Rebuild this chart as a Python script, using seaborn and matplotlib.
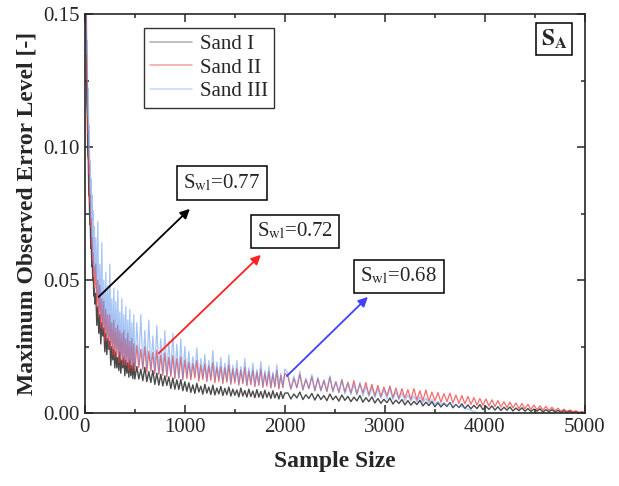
import numpy as np
import pandas as pd
import seaborn as sns
import matplotlib.pyplot as plt
from matplotlib.lines import Line2D
from matplotlib.ticker import MultipleLocator, FormatStrFormatter

# sample-size grid (sampled from the 1..5000 axis)
sample_size = np.concatenate([np.arange(5, 101, 5), np.arange(110, 501, 10),
                              np.arange(520, 1001, 20), np.arange(1020, 2001, 20),
                              np.arange(2030, 5001, 30)])

sand_1 = [0.178, 0.148, 0.139, 0.117, 0.112, 0.097, 0.095, 0.082, 0.081, 0.071,
          0.071, 0.062, 0.063, 0.055, 0.057, 0.050, 0.051, 0.044, 0.047, 0.041,
          # 110-500
          0.045, 0.033, 0.040, 0.030, 0.037, 0.026, 0.034, 0.029, 0.032, 0.023,
          0.030, 0.022, 0.028, 0.024, 0.027, 0.018, 0.025, 0.020, 0.024, 0.017,
          0.023, 0.017, 0.021, 0.016, 0.023, 0.015, 0.020, 0.017, 0.021, 0.014,
          0.020, 0.015, 0.019, 0.0135, 0.020, 0.014, 0.018, 0.013, 0.019, 0.0128,
          # 520-1000
          0.0175, 0.0128, 0.0165, 0.0122, 0.0172, 0.0118, 0.0156, 0.0115, 0.0160, 0.0108,
          0.0150, 0.0105, 0.0146, 0.0102, 0.0140, 0.0104, 0.0136, 0.0092, 0.0132, 0.0090,
          0.0125, 0.0089, 0.0126, 0.0084, 0.0118,
          # 1020-2000
          0.0082, 0.0114, 0.0078, 0.0106, 0.0074, 0.0112, 0.0079, 0.0101, 0.0071, 0.0108,
          0.0075, 0.0098, 0.0070, 0.0105, 0.0068, 0.0094, 0.0072, 0.0100, 0.0066, 0.0093,
          0.0069, 0.0098, 0.0064, 0.0090, 0.0067, 0.0087, 0.0061, 0.0094, 0.0064, 0.0085,
          0.0060, 0.0090, 0.0062, 0.0083, 0.0058, 0.0088, 0.0060, 0.0081, 0.0056, 0.0086,
          0.0059, 0.0079, 0.0055, 0.0084, 0.0057, 0.0077, 0.0053, 0.0081, 0.0055, 0.0075,
          # 2030-5000
          0.0076, 0.0053, 0.0072, 0.0057, 0.0079, 0.0051, 0.0069, 0.0055, 0.0074, 0.0049,
          0.0071, 0.0051, 0.0066, 0.0047, 0.0072, 0.0050, 0.0064, 0.0045, 0.0068, 0.0048,
          0.0063, 0.0043, 0.0060, 0.0046, 0.0066, 0.0041, 0.0058, 0.0043, 0.0061, 0.0038,
          0.0055, 0.0037, 0.0052, 0.0039, 0.0057, 0.0034, 0.0049, 0.0036, 0.0051, 0.0031,
          0.0047, 0.0030, 0.0044, 0.0032, 0.0048, 0.0027, 0.0041, 0.0028, 0.0043, 0.0024,
          0.0039, 0.0023, 0.0036, 0.0025, 0.0040, 0.0020, 0.0033, 0.0021, 0.0035, 0.0017,
          0.0031, 0.0016, 0.0029, 0.0017, 0.0032, 0.0013, 0.0026, 0.0014, 0.0027, 0.0011,
          0.0024, 0.0010, 0.0022, 0.0011, 0.0023, 0.0008, 0.0019, 0.0009, 0.0020, 0.0007,
          0.0017, 0.0006, 0.0015, 0.0007, 0.0016, 0.0004, 0.0013, 0.0005, 0.0013, 0.0004,
          0.0010, 0.0003, 0.0009, 0.0003, 0.0008, 0.0002, 0.0005, 0.0001, 0.0003, 0.0001]

sand_2 = [0.175, 0.150, 0.150, 0.125, 0.125, 0.105, 0.106, 0.090, 0.093, 0.079,
          0.082, 0.070, 0.073, 0.062, 0.066, 0.056, 0.060, 0.051, 0.055, 0.047,
          # 110-500
          0.056, 0.040, 0.050, 0.036, 0.048, 0.032, 0.043, 0.031, 0.042, 0.027,
          0.039, 0.028, 0.037, 0.024, 0.037, 0.025, 0.034, 0.022, 0.035, 0.021,
          0.032, 0.022, 0.033, 0.019, 0.031, 0.020, 0.030, 0.018, 0.031, 0.018,
          0.028, 0.018, 0.030, 0.016, 0.027, 0.017, 0.028, 0.016, 0.026, 0.016,
          # 520-1000
          0.0255, 0.0170, 0.0240, 0.0165, 0.0250, 0.0155, 0.0232, 0.0158, 0.0228, 0.0148,
          0.0236, 0.0145, 0.0218, 0.0142, 0.0226, 0.0135, 0.0210, 0.0138, 0.0216, 0.0130,
          0.0205, 0.0132, 0.0212, 0.0125, 0.0200,
          # 1020-2000
          0.0130, 0.0192, 0.0125, 0.0186, 0.0132, 0.0198, 0.0120, 0.0180, 0.0126, 0.0185,
          0.0118, 0.0178, 0.0123, 0.0190, 0.0114, 0.0172, 0.0119, 0.0176, 0.0111, 0.0170,
          0.0116, 0.0182, 0.0108, 0.0166, 0.0113, 0.0168, 0.0105, 0.0162, 0.0110, 0.0172,
          0.0102, 0.0158, 0.0107, 0.0162, 0.0099, 0.0154, 0.0104, 0.0166, 0.0096, 0.0150,
          0.0101, 0.0156, 0.0094, 0.0146, 0.0098, 0.0160, 0.0091, 0.0142, 0.0095, 0.0150,
          # 2030-5000
          0.0138, 0.0090, 0.0130, 0.0095, 0.0145, 0.0088, 0.0126, 0.0092, 0.0136, 0.0084,
          0.0130, 0.0086, 0.0122, 0.0080, 0.0135, 0.0083, 0.0118, 0.0077, 0.0126, 0.0079,
          0.0116, 0.0075, 0.0122, 0.0072, 0.0110, 0.0076, 0.0115, 0.0068, 0.0108, 0.0065,
          0.0104, 0.0062, 0.0098, 0.0065, 0.0102, 0.0058, 0.0094, 0.0055, 0.0092, 0.0057,
          0.0088, 0.0051, 0.0092, 0.0049, 0.0084, 0.0047, 0.0087, 0.0044, 0.0079, 0.0046,
          0.0077, 0.0041, 0.0073, 0.0043, 0.0075, 0.0038, 0.0068, 0.0036, 0.0066, 0.0035,
          0.0063, 0.0033, 0.0058, 0.0030, 0.0055, 0.0029, 0.0053, 0.0027, 0.0050, 0.0025,
          0.0047, 0.0023, 0.0043, 0.0021, 0.0041, 0.0020, 0.0038, 0.0017, 0.0036, 0.0016,
          0.0033, 0.0014, 0.0030, 0.0013, 0.0027, 0.0011, 0.0025, 0.0010, 0.0022, 0.0009,
          0.0018, 0.0007, 0.0015, 0.0006, 0.0012, 0.0005, 0.0009, 0.0003, 0.0006, 0.0002]

sand_3 = [0.185, 0.158, 0.165, 0.135, 0.140, 0.112, 0.122, 0.098, 0.108, 0.085,
          0.095, 0.073, 0.088, 0.066, 0.082, 0.060, 0.076, 0.055, 0.070, 0.052,
          # 110-500
          0.066, 0.044, 0.072, 0.039, 0.056, 0.036, 0.064, 0.033, 0.050, 0.031,
          0.053, 0.029, 0.048, 0.028, 0.056, 0.026, 0.043, 0.025, 0.047, 0.024,
          0.042, 0.023, 0.046, 0.022, 0.038, 0.021, 0.043, 0.020, 0.037, 0.020,
          0.040, 0.019, 0.035, 0.019, 0.039, 0.018, 0.034, 0.018, 0.037, 0.017,
          # 520-1000
          0.034, 0.018, 0.037, 0.017, 0.031, 0.017, 0.035, 0.016, 0.029, 0.016,
          0.033, 0.015, 0.028, 0.015, 0.031, 0.014, 0.027, 0.014, 0.030, 0.0135,
          0.026, 0.013, 0.028, 0.013, 0.025,
          # 1020-2000
          0.0140, 0.0232, 0.0135, 0.0212, 0.0148, 0.0245, 0.0130, 0.0205, 0.0138, 0.0220,
          0.0126, 0.0198, 0.0134, 0.0235, 0.0122, 0.0192, 0.0130, 0.0210, 0.0118, 0.0188,
          0.0126, 0.0218, 0.0114, 0.0180, 0.0122, 0.0198, 0.0110, 0.0175, 0.0118, 0.0205,
          0.0107, 0.0170, 0.0114, 0.0188, 0.0104, 0.0164, 0.0110, 0.0195, 0.0101, 0.0160,
          0.0107, 0.0176, 0.0098, 0.0155, 0.0104, 0.0182, 0.0095, 0.0150, 0.0100, 0.0166,
          # 2030-3920
          0.0150, 0.0090, 0.0140, 0.0096, 0.0158, 0.0086, 0.0132, 0.0092, 0.0145, 0.0084,
          0.0135, 0.0082, 0.0126, 0.0085, 0.0140, 0.0078, 0.0118, 0.0080, 0.0124, 0.0072,
          0.0112, 0.0070, 0.0108, 0.0068, 0.0117, 0.0064, 0.0100, 0.0063, 0.0096, 0.0058,
          0.0092, 0.0056, 0.0088, 0.0053, 0.0094, 0.0051, 0.0080, 0.0050, 0.0076, 0.0046,
          0.0068, 0.0045, 0.0064, 0.0042, 0.0062, 0.0040, 0.0056, 0.0037, 0.0051, 0.0034,
          0.0044, 0.0032, 0.0040, 0.0029, 0.0036, 0.0026, 0.0031, 0.0022, 0.0025, 0.0017,
          0.0015, 0.0010, 0.0006, 0.0002]

labels = ['Sand I', 'Sand II', 'Sand III']
series = [sand_1, sand_2, sand_3]
colors = ['#363636', '#f03a3a', '#5f95ec']
alphas = [0.9, 0.75, 0.55]
widths = [1.0, 0.9, 0.9]
legend_colors = ['#b4b4b4', '#f4a8a8', '#c4dbfa']

frames = []
for name, vals in zip(labels, series):
    frames.append(pd.DataFrame({'Sample Size': sample_size[:len(vals)],
                                'Error': vals, 'Sand': name}))
df = pd.concat(frames, ignore_index=True)

sns.set_style('ticks')
plt.rcParams['font.family'] = ['Liberation Serif', 'DejaVu Serif']
plt.rcParams['mathtext.fontset'] = 'stix'

fig = plt.figure(figsize=(6.19, 4.86), dpi=100)
ax = fig.add_axes([0.137, 0.150, 0.808, 0.821])

for name, c, a, w in zip(labels, colors, alphas, widths):
    sns.lineplot(data=df[df['Sand'] == name], x='Sample Size', y='Error',
                 color=c, alpha=a, linewidth=w, estimator=None, sort=False, ax=ax)

ax.set_xlim(0, 5000)
ax.set_ylim(0, 0.15)
ax.xaxis.set_major_locator(MultipleLocator(1000))
ax.xaxis.set_minor_locator(MultipleLocator(500))
ax.yaxis.set_major_locator(MultipleLocator(0.05))
ax.yaxis.set_minor_locator(MultipleLocator(0.025))
ax.yaxis.set_major_formatter(FormatStrFormatter('%.2f'))
ax.tick_params(which='both', direction='in', top=True, right=True, labelsize=15, width=1.1)
ax.tick_params(which='major', length=6)
ax.tick_params(which='minor', length=3)
for s in ax.spines.values():
    s.set_linewidth(1.2)

ax.set_xlabel('Sample Size', fontsize=17, fontweight='bold', labelpad=10)
ax.set_ylabel('Maximum Observed Error Level [-]', fontsize=17, fontweight='bold', labelpad=4)

handles = [Line2D([], [], color=c, linewidth=1.2) for c in legend_colors]
leg = ax.legend(handles, labels, loc='upper left', bbox_to_anchor=(0.118, 0.965),
                borderaxespad=0, fontsize=15, frameon=True, fancybox=False,
                edgecolor='black', handlelength=2.0, handletextpad=0.4,
                labelspacing=0.2, borderpad=0.3)
leg.get_frame().set_linewidth(1.0)

box = dict(boxstyle='square,pad=0.3', facecolor='white', edgecolor='black', linewidth=1.1)
arrows = [((120, 0.043), (1070, 0.0775), 'black', (1370, 0.0865), r'S$_{\mathrm{wl}}$=0.77'),
          ((720, 0.0218), (1780, 0.0602), '#ff2020', (2100, 0.0684), r'S$_{\mathrm{wl}}$=0.72'),
          ((2000, 0.0132), (2850, 0.0444), '#4040ff', (3140, 0.0515), r'S$_{\mathrm{wl}}$=0.68')]
for tail, head, c, pos, txt in arrows:
    ax.annotate('', xy=head, xytext=tail,
                arrowprops=dict(arrowstyle='-|>', color=c, lw=1.3, mutation_scale=14))
    ax.text(pos[0], pos[1], txt, fontsize=15, ha='center', va='center', bbox=box)

ax.text(4690, 0.1406, r'$\mathbf{S_A}$', fontsize=17, ha='center', va='center',
        bbox=dict(boxstyle='square,pad=0.2', facecolor='white', edgecolor='black', linewidth=1.1))

fig.savefig('out.png', dpi=100)
